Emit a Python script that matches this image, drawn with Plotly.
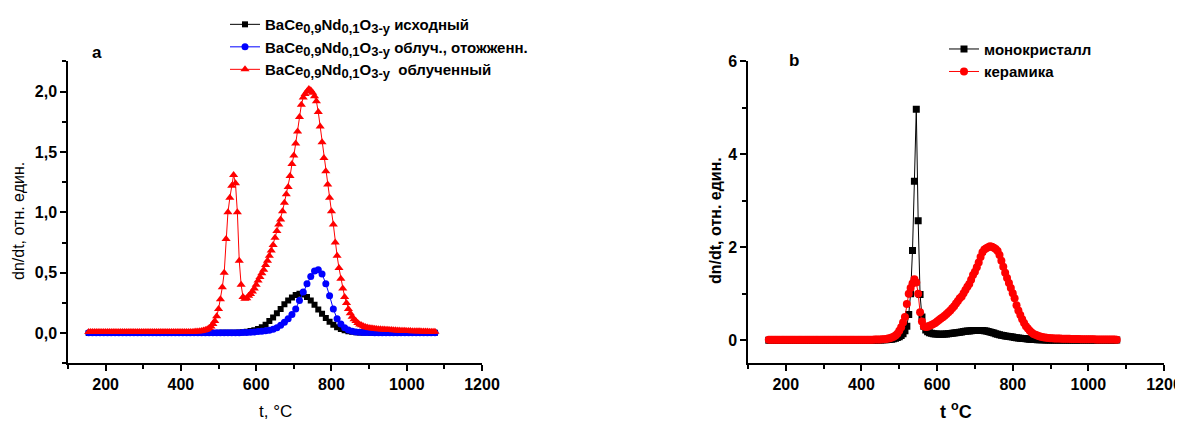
import plotly.graph_objects as go

# ---------------- data ----------------
# temperature grids (deg C)
t_fine = list(range(155, 1080, 5))     # 185 points
t_coarse = list(range(155, 1080, 10))  # 93 points

# panel a: BaCe0.9Nd0.1O3-y  irradiated (also ceramic in panel b)
irradiated = [
    0.01, 0.01, 0.01, 0.01, 0.01, 0.01, 0.01, 0.01, 0.01, 0.01,
    0.01, 0.01, 0.01, 0.01, 0.01, 0.01, 0.01, 0.01, 0.01, 0.01,
    0.01, 0.01, 0.01, 0.01, 0.01, 0.01, 0.01, 0.01, 0.01, 0.01,
    0.01, 0.01, 0.01, 0.01, 0.01, 0.01, 0.01, 0.01, 0.01, 0.01,
    0.01, 0.01, 0.01, 0.01, 0.01, 0.01, 0.01, 0.01, 0.01, 0.01,
    0.01, 0.01, 0.01, 0.01, 0.01, 0.01, 0.012, 0.013, 0.014, 0.016,
    0.018, 0.022, 0.027, 0.033, 0.042, 0.055, 0.075, 0.10, 0.14, 0.20,
    0.28, 0.38, 0.50, 0.78, 1.00, 1.12, 1.22, 1.31, 1.24, 1.00,
    0.60, 0.40, 0.30, 0.285, 0.29, 0.31, 0.325, 0.345, 0.37, 0.40,
    0.435, 0.465, 0.495, 0.525, 0.565, 0.60, 0.64, 0.685, 0.73, 0.79,
    0.845, 0.90, 0.94, 1.01, 1.08, 1.15, 1.21, 1.30, 1.40, 1.47,
    1.57, 1.67, 1.79, 1.89, 1.95, 1.98, 2.00, 2.02, 2.01, 1.99,
    1.96, 1.92, 1.83, 1.71, 1.58, 1.45, 1.34, 1.23, 1.12, 1.01,
    0.90, 0.75, 0.64, 0.54, 0.45, 0.37, 0.30, 0.25, 0.20, 0.165,
    0.135, 0.115, 0.10, 0.085, 0.072, 0.065, 0.058, 0.052, 0.047, 0.043,
    0.04, 0.038, 0.036, 0.034, 0.033, 0.032, 0.031, 0.03, 0.029, 0.028,
    0.027, 0.026, 0.025, 0.024, 0.023, 0.022, 0.021, 0.02, 0.02, 0.019,
    0.018, 0.018, 0.017, 0.016, 0.016, 0.015, 0.015, 0.014, 0.014, 0.013,
    0.013, 0.012, 0.012, 0.012, 0.011,
]

# panel a: initial
initial = [
    0.002, 0.002, 0.002, 0.002, 0.002, 0.002, 0.002, 0.002, 0.002, 0.002,
    0.002, 0.002, 0.002, 0.002, 0.002, 0.002, 0.002, 0.002, 0.002, 0.002,
    0.002, 0.002, 0.002, 0.002, 0.002, 0.002, 0.002, 0.002, 0.002, 0.002,
    0.002, 0.002, 0.002, 0.002, 0.002, 0.003, 0.003, 0.003, 0.004, 0.004,
    0.005, 0.008, 0.012, 0.018, 0.025, 0.035, 0.05, 0.07, 0.10, 0.13,
    0.165, 0.20, 0.24, 0.27, 0.295, 0.315, 0.327, 0.32, 0.30, 0.27,
    0.235, 0.195, 0.16, 0.125, 0.095, 0.07, 0.05, 0.035, 0.024, 0.016,
    0.011, 0.008, 0.006, 0.005, 0.005, 0.004, 0.004, 0.004, 0.003, 0.003,
    0.003, 0.003, 0.003, 0.003, 0.003, 0.003, 0.003, 0.003, 0.003, 0.003,
    0.003, 0.003, 0.003,
]

# panel a: irradiated + annealed
annealed = [
    0.003, 0.003, 0.003, 0.003, 0.003, 0.003, 0.003, 0.003, 0.003, 0.003,
    0.003, 0.003, 0.003, 0.003, 0.003, 0.003, 0.003, 0.003, 0.003, 0.003,
    0.003, 0.003, 0.003, 0.003, 0.003, 0.003, 0.003, 0.003, 0.003, 0.003,
    0.003, 0.003, 0.003, 0.003, 0.003, 0.003, 0.003, 0.003, 0.003, 0.003,
    0.004, 0.005, 0.006, 0.008, 0.01, 0.013, 0.016, 0.02, 0.025, 0.033,
    0.045, 0.065, 0.09, 0.12, 0.155, 0.20, 0.27, 0.34, 0.41, 0.47,
    0.515, 0.525, 0.49, 0.41, 0.31, 0.20, 0.12, 0.075, 0.045, 0.026,
    0.015, 0.01, 0.007, 0.006, 0.005, 0.005, 0.004, 0.004, 0.004, 0.004,
    0.004, 0.004, 0.004, 0.004, 0.004, 0.004, 0.004, 0.004, 0.004, 0.004,
    0.004, 0.004, 0.004,
]

# panel b: single crystal
single_crystal = [
    0.0, 0.0, 0.0, 0.0, 0.0, 0.0, 0.0, 0.0, 0.0, 0.0,
    0.0, 0.0, 0.0, 0.0, 0.0, 0.0, 0.0, 0.0, 0.0, 0.0,
    0.0, 0.0, 0.0, 0.0, 0.0, 0.0, 0.0, 0.0, 0.0, 0.0,
    0.0, 0.0, 0.0, 0.0, 0.0, 0.0, 0.0, 0.0, 0.0, 0.0,
    0.0, 0.0, 0.0, 0.0, 0.0, 0.0, 0.0, 0.0, 0.0, 0.0,
    0.0, 0.0, 0.0, 0.0, 0.0, 0.0, 0.002, 0.003, 0.004, 0.005,
    0.006, 0.008, 0.01, 0.013, 0.017, 0.022, 0.03, 0.04, 0.055, 0.075,
    0.10, 0.14, 0.20, 0.30, 0.55, 1.00, 1.93, 3.42, 4.97, 2.57,
    0.98, 0.50, 0.30, 0.22, 0.18, 0.16, 0.15, 0.14, 0.135, 0.13,
    0.128, 0.127, 0.128, 0.13, 0.133, 0.137, 0.142, 0.148, 0.154, 0.16,
    0.166, 0.172, 0.178, 0.184, 0.19, 0.195, 0.199, 0.203, 0.206, 0.208,
    0.21, 0.21, 0.209, 0.207, 0.203, 0.197, 0.188, 0.177, 0.165, 0.152,
    0.14, 0.128, 0.117, 0.107, 0.098, 0.09, 0.083, 0.077, 0.071, 0.066,
    0.058, 0.053, 0.048, 0.043, 0.038, 0.034, 0.03, 0.026, 0.022, 0.019,
    0.016, 0.013, 0.011, 0.009, 0.007, 0.006, 0.005, 0.004, 0.004, 0.003,
    0.003, 0.003, 0.003, 0.003, 0.003, 0.003, 0.003, 0.003, 0.003, 0.003,
    0.002, 0.002, 0.002, 0.002, 0.002, 0.002, 0.002, 0.002, 0.002, 0.002,
    0.002, 0.002, 0.002, 0.002, 0.002, 0.002, 0.002, 0.002, 0.002, 0.002,
    0.002, 0.002, 0.002, 0.002, 0.002,
]
ceramic = irradiated


def sub(s):
    return "<sub><span style='font-size:13px'>" + s + "</span></sub>"


formula = "BaCe" + sub("0,9") + "Nd" + sub("0,1") + "O" + sub("3-y")
names_a = [formula + " исходный", formula + " облуч., отожженн.",
           formula + "\u00a0 облученный"]
names_b = ["монокристалл", "керамика"]

x_ticks = [200, 400, 600, 800, 1000, 1200]
ya_ticks = [0.0, 0.5, 1.0, 1.5, 2.0]
yb_ticks = [0, 2, 4, 6]

# ---------------- figure ----------------
OFF = 8                      # page body margin
W, H = 1183 - OFF, 424 - OFF
FONT = "Liberation Sans"


def px(x):
    return (x - OFF) / W


def py(y):
    return 1 - (y - OFF) / H


fig = go.Figure()
fig.add_trace(go.Scatter(x=t_coarse, y=initial, name=names_a[0], mode="lines+markers",
                         line=dict(color="black", width=1),
                         marker=dict(symbol="square", size=6, color="black"),
                         xaxis="x", yaxis="y", legend="legend"))
fig.add_trace(go.Scatter(x=t_coarse, y=annealed, name=names_a[1], mode="lines+markers",
                         line=dict(color="#0000FF", width=1),
                         marker=dict(symbol="circle", size=7, color="#0000FF"),
                         xaxis="x", yaxis="y", legend="legend"))
fig.add_trace(go.Scatter(x=t_fine, y=irradiated, name=names_a[2], mode="lines+markers",
                         line=dict(color="#FF0000", width=1),
                         marker=dict(symbol="triangle-up", size=8, color="#FF0000"),
                         xaxis="x", yaxis="y", legend="legend"))
fig.add_trace(go.Scatter(x=t_fine, y=single_crystal, name=names_b[0], mode="lines+markers",
                         line=dict(color="black", width=1),
                         marker=dict(symbol="square", size=7, color="black"),
                         xaxis="x2", yaxis="y2", legend="legend2"))
fig.add_trace(go.Scatter(x=t_fine, y=ceramic, name=names_b[1], mode="lines+markers",
                         line=dict(color="#FF0000", width=1),
                         marker=dict(symbol="circle", size=8, color="#FF0000"),
                         xaxis="x2", yaxis="y2", legend="legend2"))

tickfont = dict(family=FONT, size=16, color="black", weight="bold")
common = dict(showline=True, linecolor="black", linewidth=1.5, ticks="outside",
              ticklen=6, tickwidth=1.5, tickcolor="black", showgrid=False,
              zeroline=False, automargin=False, tickfont=tickfont, mirror=False)
minor_x = dict(dtick=100, tick0=0, ticklen=4, tickwidth=1.5, tickcolor="black",
               ticks="outside", showgrid=False)

ydom = [py(362.5), py(56)]
fig.update_layout(
    width=W, height=H, template="none",
    paper_bgcolor="white", plot_bgcolor="white",
    margin=dict(l=0, r=0, t=0, b=0),
    separators=", ",
    font=dict(family=FONT, color="black"),
    showlegend=True,
    xaxis=dict(domain=[px(68), px(482)], range=[100, 1200], anchor="y",
               tickmode="array", tickvals=x_ticks, minor=minor_x, **common),
    yaxis=dict(domain=ydom, range=[-0.25, 2.25], anchor="x",
               tickmode="array", tickvals=ya_ticks, tickformat=".1f",
               minor=dict(dtick=0.25, tick0=0, ticklen=4, tickwidth=1.5,
                          tickcolor="black", ticks="outside", showgrid=False),
               **common),
    xaxis2=dict(domain=[px(748), px(1164)], range=[100, 1200], anchor="y2",
                tickmode="array", tickvals=x_ticks, minor=minor_x, **common),
    yaxis2=dict(domain=ydom, range=[-0.5, 6], anchor="x2",
                tickmode="array", tickvals=yb_ticks,
                minor=dict(dtick=1, tick0=0, ticklen=4, tickwidth=1.5,
                           tickcolor="black", ticks="outside", showgrid=False),
                **common),
    legend=dict(x=px(225), y=py(2), xanchor="left", yanchor="top",
                bgcolor="rgba(0,0,0,0)", borderwidth=0, tracegroupgap=0,
                itemwidth=30,
                font=dict(family=FONT, size=15, color="black", weight="bold")),
    legend2=dict(x=px(944), y=py(27), xanchor="left", yanchor="top",
                 bgcolor="rgba(0,0,0,0)", borderwidth=0, tracegroupgap=0,
                 itemwidth=30,
                 font=dict(family=FONT, size=15, color="black", weight="bold")),
)

ann = [
    dict(text="dn/dt, отн. един.", x=px(19), y=py(218), textangle=-90,
         font=dict(family=FONT, size=16, color="black")),
    dict(text="dn/dt, отн. един.", x=px(716), y=py(218), textangle=-90,
         font=dict(family=FONT, size=16, color="black", weight="bold")),
    dict(text="t, °C", x=px(275), y=py(411),
         font=dict(family=FONT, size=17, color="black")),
    dict(text="t <sup>o</sup>C", x=px(956), y=py(410),
         font=dict(family=FONT, size=18, color="black", weight="bold")),
    dict(text="a", x=px(97), y=py(47),
         font=dict(family=FONT, size=17, color="black", weight="bold")),
    dict(text="b", x=px(794), y=py(55),
         font=dict(family=FONT, size=17, color="black", weight="bold")),
]
for a in ann:
    a.update(xref="paper", yref="paper", showarrow=False,
             xanchor="center", yanchor="middle")
fig.update_layout(annotations=ann)

fig.write_html("out.html")
